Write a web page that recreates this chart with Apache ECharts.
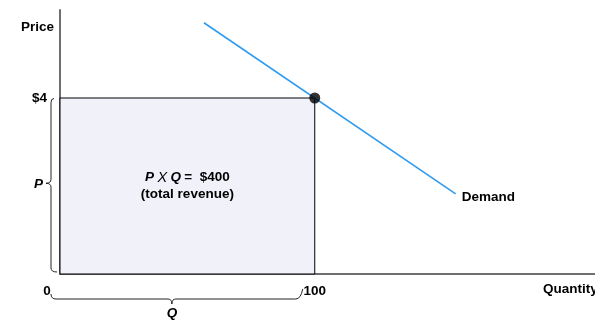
<!DOCTYPE html>
<html>
<head>
<meta charset="utf-8">
<script src="https://cdn.jsdelivr.net/npm/echarts@6/dist/echarts.min.js"></script>
<style>
  html, body { margin: 0; padding: 0; background: #fff; }
  #chart { width: 595px; height: 322px; }
</style>
</head>
<body>
<div id="chart"></div>
<script>
// Demand curve and the revenue rectangle at the chosen point
const quantityTicks = [0, 100];
const priceTicks = [4];
const demandQuantity = [56.5, 155.3];
const demandPrice = [5.71, 1.82];
const chosenQuantity = 100;
const chosenPrice = 4;
const totalRevenue = chosenQuantity * chosenPrice;

const FONT = "'Liberation Sans', Arial, sans-serif";
const FS = 13.5;
const chart = echarts.init(document.getElementById('chart'), null, { renderer: 'canvas' });

chart.setOption({
  animation: false,
  grid: { left: 60, right: 0, top: 10, bottom: 48 },
  xAxis: {
    type: 'value', min: 0, max: 210,
    axisLine: { show: true, lineStyle: { color: '#6e6e6e', width: 2 } },
    axisTick: { show: false },
    splitLine: { show: false },
    axisLabel: {
      customValues: quantityTicks,
      margin: 10,
      color: '#000', fontFamily: FONT, fontWeight: 'bold', fontSize: FS,
      formatter: v => v === 0 ? '{z|0}' : String(v),
      rich: { z: { padding: [0, 26, 0, 0], color: '#000', fontFamily: FONT, fontWeight: 'bold', fontSize: FS } }
    }
  },
  yAxis: {
    type: 'value', min: 0, max: 6,
    axisLine: { show: true, lineStyle: { color: '#6e6e6e', width: 2 } },
    axisTick: { show: false },
    splitLine: { show: false },
    axisLabel: {
      customValues: priceTicks,
      margin: 13,
      color: '#000', fontFamily: FONT, fontWeight: 'bold', fontSize: FS,
      formatter: v => '$' + v
    }
  },
  series: [
    {
      type: 'line',
      data: [[0, 0]],
      symbol: 'none',
      lineStyle: { width: 0 },
      silent: true,
      markArea: {
        silent: true,
        itemStyle: { color: '#f1f1fa', borderColor: '#000', borderWidth: 1 },
        label: {
          show: true,
          position: 'inside',
          formatter: '{i|P} {x|X} {i|Q} {b|=  $' + totalRevenue + '}\n{b|(total revenue)}',
          rich: {
            i: { fontFamily: FONT, fontSize: FS, fontWeight: 'bold', fontStyle: 'italic', color: '#000', lineHeight: 17 },
            x: { fontFamily: FONT, fontSize: FS + 1, fontStyle: 'italic', color: '#000', lineHeight: 17 },
            b: { fontFamily: FONT, fontSize: FS, fontWeight: 'bold', color: '#000', lineHeight: 17 }
          }
        },
        data: [[{ coord: [0, 0] }, { coord: [chosenQuantity, chosenPrice] }]]
      }
    },
    {
      type: 'line',
      data: demandQuantity.map((q, i) => [q, demandPrice[i]]),
      symbol: 'none',
      lineStyle: { color: '#2f9bf0', width: 1.6 },
      endLabel: {
        show: true,
        formatter: 'Demand',
        distance: 6,
        offset: [0, 3],
        color: '#000', fontFamily: FONT, fontWeight: 'bold', fontSize: FS
      },
      z: 3
    },
    {
      type: 'scatter',
      data: [[chosenQuantity, chosenPrice]],
      symbol: 'circle',
      symbolSize: 11,
      itemStyle: { color: '#000' },
      z: 4
    }
  ]
});

// Braces and axis captions placed from the axis scales
const p0 = chart.convertToPixel({ gridIndex: 0 }, [0, 0]);
const pTop = chart.convertToPixel({ gridIndex: 0 }, [0, chosenPrice]);
const pRight = chart.convertToPixel({ gridIndex: 0 }, [chosenQuantity, 0]);
const axisX = p0[0], axisY = p0[1];
const braceStyle = { fill: 'none', stroke: '#222', lineWidth: 1 };

const curve = (x1, y1, cx, cy, x2, y2) => ({
  type: 'bezierCurve', silent: true,
  shape: { x1, y1, cpx1: cx, cpy1: cy, x2, y2 }, style: braceStyle
});
const seg = (x1, y1, x2, y2) => ({
  type: 'line', silent: true, shape: { x1, y1, x2, y2 }, style: braceStyle
});

// Left-pointing brace spanning y1..y2 at column x
function vBrace(x, y1, y2) {
  const ym = (y1 + y2) / 2 - 2;
  return [
    curve(x + 3, y1, x, y1, x, y1 + 4),
    seg(x, y1 + 4, x, ym - 4),
    curve(x, ym - 4, x, ym, x - 5, ym),
    curve(x - 5, ym, x, ym, x, ym + 4),
    seg(x, ym + 4, x, y2 - 4),
    curve(x, y2 - 4, x, y2, x + 6, y2)
  ];
}
// Down-pointing brace spanning x1..x2 on row y
function hBrace(x1, x2, y) {
  const xm = (x1 + x2) / 2 - 4;
  return [
    curve(x1, y - 5, x1, y, x1 + 5, y),
    seg(x1 + 5, y, xm - 4, y),
    curve(xm - 4, y, xm, y, xm, y + 5),
    curve(xm, y + 5, xm, y, xm + 4, y),
    seg(xm + 4, y, x2 - 5, y),
    curve(x2 - 5, y, x2, y, x2 + 2, y - 10)
  ];
}

const txt = (x, y, text, align, extra) => ({
  type: 'text', x, y, silent: true,
  style: Object.assign({ text, fill: '#000', font: 'bold ' + FS + 'px ' + FONT, align, verticalAlign: 'middle' }, extra || {})
});

const hx1 = axisX - 9, hx2 = pRight[0] - 14;
chart.setOption({
  graphic: [].concat(
    vBrace(axisX - 9, pTop[1] + 0.5, axisY - 2),
    hBrace(hx1, hx2, axisY + 25),
    [
      txt(axisX - 6, 27, 'Price', 'right'),
      txt(axisX - 17, (pTop[1] + axisY) / 2 - 2, 'P', 'right', { font: 'italic bold ' + FS + 'px ' + FONT }),
      txt((hx1 + hx2) / 2 - 4, axisY + 39, 'Q', 'center', { font: 'italic bold ' + FS + 'px ' + FONT }),
      txt(543, axisY + 15, 'Quantity', 'left')
    ]
  )
});
</script>
</body>
</html>
